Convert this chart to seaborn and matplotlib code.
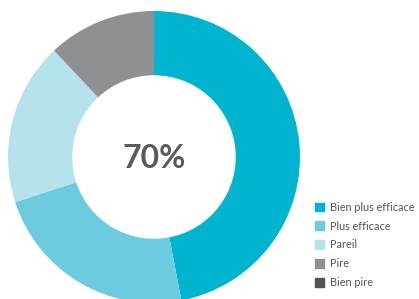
import matplotlib
matplotlib.use('Agg')
import matplotlib.pyplot as plt
import matplotlib.patches as mpatches
import seaborn as sns

# Données
categories = ['Bien plus efficace', 'Plus efficace', 'Pareil', 'Pire', 'Bien pire']
values = [47, 23, 18, 12, 0]
colors = ['#00b4d0', '#6ccbdf', '#b5e2ed', '#8e9094', '#555557']
center_label = '70%'

sns.set_theme(style='white')
plt.rcParams['font.family'] = ['Lato', 'DejaVu Sans']

fig = plt.figure(figsize=(4.19, 2.99), dpi=100)
ax = fig.add_axes([8 / 419, -4 / 299, 292 / 419, 292 / 299])

ax.pie(values, colors=colors, startangle=90, counterclock=False,
       wedgeprops=dict(width=0.44, edgecolor='none'), radius=1)
ax.set_xlim(-1, 1)
ax.set_ylim(-1, 1)
ax.set_aspect('equal')
ax.axis('off')

ax.text(0, -0.01, center_label, ha='center', va='center', fontsize=23,
        fontweight='bold', color='#5a5a5a')

handles = [mpatches.Patch(color=c, label=l) for c, l in zip(colors, categories)]
fig.legend(handles=handles, loc='upper left', bbox_to_anchor=(305 / 419, 1 - 192 / 299),
           frameon=False, fontsize=7.8, handlelength=0.85, handleheight=0.85,
           handletextpad=0.55, labelspacing=0.72, labelcolor='#555555')

fig.savefig('out.png', dpi=100)
